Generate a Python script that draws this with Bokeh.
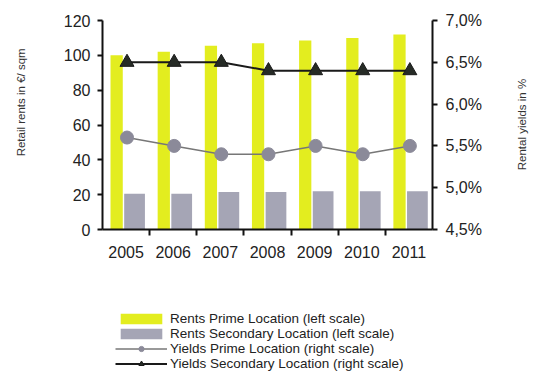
import numpy as np
from bokeh.plotting import figure
from bokeh.layouts import column
from bokeh.models import (Range1d, LinearAxis, FixedTicker, CustomJSTickFormatter,
                          Legend, LegendItem)
from bokeh.embed import file_html
from bokeh.resources import INLINE

years = ["2005", "2006", "2007", "2008", "2009", "2010", "2011"]
rents_prime = [100, 102, 105.5, 107, 108.5, 110, 112]
rents_secondary = [20.5, 20.5, 21.5, 21.5, 22, 22, 22]
yields_prime = [5.6, 5.5, 5.4, 5.4, 5.5, 5.4, 5.5]
yields_secondary = [6.5, 6.5, 6.5, 6.4, 6.4, 6.4, 6.4]
left_ticks = [0, 20, 40, 60, 80, 100, 120]
right_ticks = [4.5, 5.0, 5.5, 6.0, 6.5, 7.0]
labels = ["Rents Prime Location (left scale)",
          "Rents Secondary Location (left scale)",
          "Yields Prime Location (right scale)",
          "Yields Secondary Location (right scale)"]
left_title = "Retail rents in €/ sqm"
right_title = "Rental yields in %"

FONT = "Liberation Sans"
TICK_SIZE = "16px"
TITLE_SIZE = "11.5px"
PRIME = "#e3ed1f"
SECOND = "#a5a5b5"
# anchor of the rotated axis titles, on the left scale
# (left title: top end; right title: bottom end)
LEFT_TITLE_ANCHOR = 104
RIGHT_TITLE_ANCHOR = 34
x = np.arange(len(years))


def add_series(fig, visible=True):
    b1 = fig.vbar(x=x + 0.30, top=rents_prime, bottom=0, width=0.26,
                  fill_color=PRIME, line_color=None, visible=visible)
    b2 = fig.vbar(x=x + 0.68, top=rents_secondary, bottom=0, width=0.44,
                  fill_color=SECOND, line_color=None, visible=visible)
    a = fig.line(x + 0.52, yields_prime, y_range_name="yld", line_color="#777777",
                 line_width=1.5, visible=visible)
    am = fig.scatter(x + 0.52, yields_prime, y_range_name="yld", marker="circle", size=13,
                     fill_color="#8b8a99", line_color="#8b8a99", visible=visible)
    b = fig.line(x + 0.52, yields_secondary, y_range_name="yld", line_color="#1a1a1a",
                 line_width=2, visible=visible)
    bm = fig.scatter(x + 0.52, yields_secondary, y_range_name="yld", marker="triangle", size=14,
                     fill_color="#262b26", line_color="#1a1a1a", visible=visible)
    return [[b1], [b2], [a, am], [b, bm]]


def style_axis(ax, standoff):
    ax.major_tick_in = 0
    ax.major_tick_out = 5
    ax.major_tick_line_width = 2
    ax.major_tick_line_color = "#111111"
    ax.minor_tick_line_color = None
    ax.axis_line_width = 2
    ax.axis_line_color = "#111111"
    ax.major_label_standoff = standoff
    ax.major_label_text_font = FONT
    ax.major_label_text_font_size = TICK_SIZE
    ax.major_label_text_color = "#222222"


def title_axis(text, anchor, standoff):
    ax = LinearAxis(ticker=FixedTicker(ticks=[anchor]),
                    formatter=CustomJSTickFormatter(args=dict(t=text), code="return t;"))
    ax.axis_line_color = None
    ax.major_tick_line_color = None
    ax.minor_tick_line_color = None
    ax.major_tick_in = 0
    ax.major_tick_out = 0
    ax.major_label_standoff = standoff
    ax.major_label_orientation = np.pi / 2
    ax.major_label_text_font = FONT
    ax.major_label_text_font_size = TITLE_SIZE
    ax.major_label_text_color = "#333333"
    return ax


p = figure(width=537, height=268, x_range=Range1d(0, len(years)), y_range=Range1d(0, 120),
           output_backend="svg", toolbar_location=None,
           min_border_left=102, min_border_right=105, min_border_top=20, min_border_bottom=39)
p.extra_y_ranges = {"yld": Range1d(4.5, 7.0)}
p.grid.visible = False
p.outline_line_color = None
p.background_fill_color = "white"

# x axis
xa = p.xaxis[0]
xa.ticker = FixedTicker(ticks=list(x + 0.5), minor_ticks=list(range(1, len(years))))
xa.formatter = CustomJSTickFormatter(args=dict(labels=years),
                                     code="return labels[Math.floor(tick)];")
xa.major_tick_line_color = None
xa.major_tick_out = 0
xa.minor_tick_in = 0
xa.minor_tick_out = 6
xa.minor_tick_line_width = 2
xa.minor_tick_line_color = "#111111"
xa.axis_line_width = 2
xa.axis_line_color = "#111111"
xa.major_label_standoff = 10
xa.major_label_text_font = FONT
xa.major_label_text_font_size = TICK_SIZE
xa.major_label_text_color = "#222222"

# left axis
ya = p.yaxis[0]
ya.ticker = FixedTicker(ticks=left_ticks)
style_axis(ya, 7)
p.add_layout(title_axis(left_title, LEFT_TITLE_ANCHOR, 39), "left")

# right axis
ra = LinearAxis(y_range_name="yld", ticker=FixedTicker(ticks=right_ticks),
                formatter=CustomJSTickFormatter(code="return tick.toFixed(1).replace('.', ',') + '%';"))
style_axis(ra, 8)
p.add_layout(ra, "right")
p.add_layout(title_axis(right_title, RIGHT_TITLE_ANCHOR, 38), "right")

add_series(p)

# legend figure: hidden copies of the series provide the legend swatches
q = figure(width=537, height=121, x_range=Range1d(0, len(years)), y_range=Range1d(0, 120),
           output_backend="svg", toolbar_location=None, min_border=0)
q.extra_y_ranges = {"yld": Range1d(4.5, 7.0)}
q.axis.visible = False
q.grid.visible = False
q.outline_line_color = None
groups = add_series(q, visible=False)

legend = Legend(items=[LegendItem(label=lab, renderers=g) for lab, g in zip(labels, groups)],
                location=(13, 18), orientation="vertical", click_policy="none",
                border_line_color=None, background_fill_alpha=0,
                inactive_fill_alpha=0,
                padding=0, margin=0, spacing=0,
                glyph_width=52, glyph_height=13, label_height=15, label_standoff=3,
                label_text_font=FONT, label_text_font_size="13.5px",
                label_text_color="#222222")
q.add_layout(legend)

open("out.html", "w").write(file_html(column(p, q, spacing=0), INLINE))
